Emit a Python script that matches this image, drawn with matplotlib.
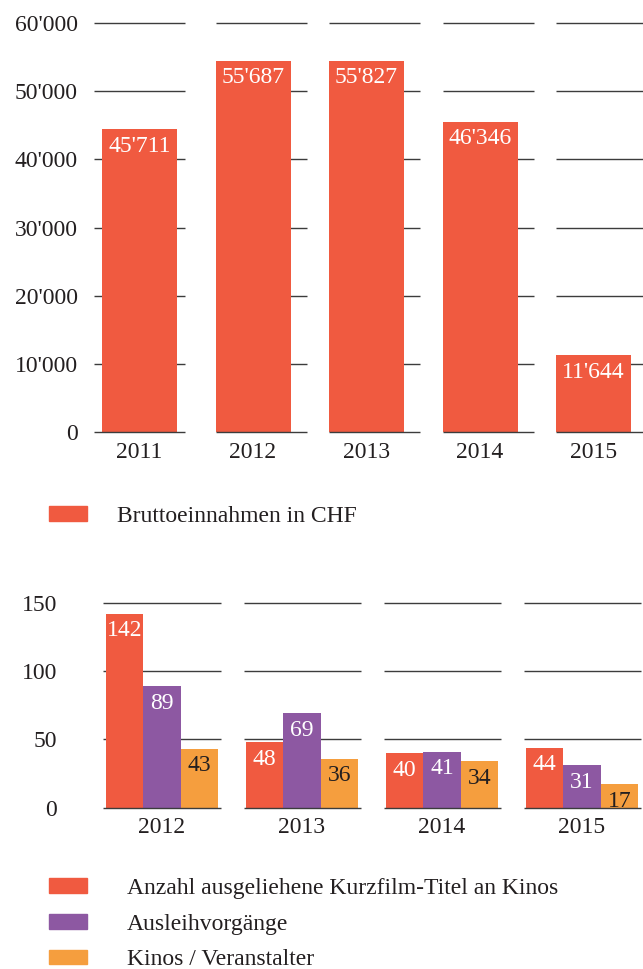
import matplotlib.pyplot as plt
from matplotlib.patches import Patch

# top chart: gross revenue per year
years_top = ["2011", "2012", "2013", "2014", "2015"]
revenue = [44400, 54450, 54450, 45500, 11300]  # bar heights as drawn
revenue_labels = ["45'711", "55'687", "55'827", "46'346", "11'644"]
revenue_name = "Bruttoeinnahmen in CHF"
top_ticks = [0, 10000, 20000, 30000, 40000, 50000, 60000]
top_ticklabels = ["0", "10'000", "20'000", "30'000", "40'000", "50'000", "60'000"]

# bottom chart: rentals
years_bottom = ["2012", "2013", "2014", "2015"]
titles = [142, 48, 40, 44]
loans = [89, 69, 41, 31]
venues = [43, 36, 34, 17]
series_names = ["Anzahl ausgeliehene Kurzfilm-Titel an Kinos",
                "Ausleihvorgänge",
                "Kinos / Veranstalter"]
bottom_ticks = [0, 50, 100, 150]

red = "#F05A40"
purple = "#8D58A2"
orange = "#F59E3E"
ink = "#231F20"
grid = "#3c3c3c"

plt.rcParams['font.family'] = ['Liberation Serif', 'DejaVu Serif']
plt.rcParams['font.size'] = 17
plt.rcParams['text.color'] = ink

W, H = 643, 969
fig = plt.figure(figsize=(W / 100, H / 100), dpi=100)


def rect(left, top, right, bottom):
    return [left / W, 1 - bottom / H, (right - left) / W, (bottom - top) / H]


# ---- top chart ----
ax = fig.add_axes(rect(90, 22.7, 643, 432.3))
step = 113.5
c0 = 139.5
ax.set_xlim((90 - c0) / step, (643 - c0) / step)
ax.set_ylim(0, 60000)
bw = 75 / step
sw = 91 / step
x = list(range(len(years_top)))
seg_l = [-sw / 2] + [i - bw / 2 for i in x[1:]]
seg_r = [l + sw for l in seg_l]
for t in top_ticks:
    ax.hlines([t] * len(x), seg_l, seg_r, color=grid, lw=1.0,
              zorder=3 if t == 0 else 1, clip_on=False)
ax.bar(x, revenue, width=bw, color=red, zorder=2)
for i, (h, lab) in enumerate(zip(revenue, revenue_labels)):
    ax.annotate(lab, (i, h), xytext=(0, -17), textcoords='offset pixels',
                ha='center', va='center', color='white')
ax.set_yticks(top_ticks, top_ticklabels)
ax.set_xticks(x, years_top)
ax.tick_params(length=0, colors=ink)
ax.tick_params(axis='y', pad=8.6)
ax.tick_params(axis='x', pad=7)
for s in ax.spines.values():
    s.set_visible(False)

fig.legend(handles=[Patch(color=red)], labels=[revenue_name],
           loc='upper left', bbox_to_anchor=(49 / W, 1 - 506 / H),
           frameon=False, borderpad=0, borderaxespad=0,
           handlelength=1.61, handleheight=0.59, handletextpad=1.27)

# ---- bottom chart ----
ax2 = fig.add_axes(rect(70, 602.7, 643, 807.7))
step2 = 140
c2 = 162
ax2.set_xlim((70 - c2) / step2, (643 - c2) / step2)
ax2.set_ylim(0, 150)
bw2 = 37.5 / step2
sw2 = 117 / step2
g = list(range(len(years_bottom)))
for t in bottom_ticks:
    ax2.hlines([t] * len(g), [i - sw2 / 2 for i in g], [i + sw2 / 2 for i in g],
               color=grid, lw=1.0, zorder=3 if t == 0 else 1, clip_on=False)
series = [titles, loans, venues]
colors = [red, purple, orange]
text_colors = ['white', 'white', ink]
for k, (vals, col, tc) in enumerate(zip(series, colors, text_colors)):
    xs = [i + (k - 1) * bw2 for i in g]
    ax2.bar(xs, vals, width=bw2, color=col, zorder=2, label=series_names[k])
    for xi, v in zip(xs, vals):
        ax2.annotate(str(v), (xi, v), xytext=(0, -17), textcoords='offset pixels',
                     ha='center', va='center', color=tc)
ax2.set_yticks(bottom_ticks, [str(t) for t in bottom_ticks])
ax2.set_xticks(g, years_bottom)
ax2.tick_params(length=0, colors=ink)
ax2.tick_params(axis='y', pad=9.4)
ax2.tick_params(axis='x', pad=7)
for s in ax2.spines.values():
    s.set_visible(False)

fig.legend(handles=[Patch(color=c) for c in colors], labels=series_names,
           loc='upper left', bbox_to_anchor=(49 / W, 1 - 878 / H),
           frameon=False, borderpad=0, borderaxespad=0, labelspacing=0.62,
           handlelength=1.61, handleheight=0.59, handletextpad=1.69)

fig.savefig("out.png", dpi=100)
